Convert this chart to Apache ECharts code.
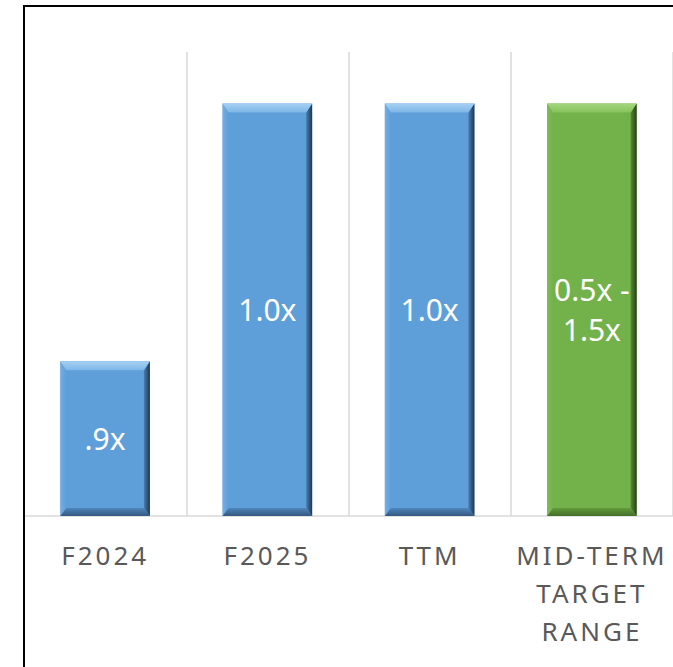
<!DOCTYPE html>
<html>
<head>
<meta charset="utf-8">
<script src="https://cdn.jsdelivr.net/npm/echarts@6/dist/echarts.min.js"></script>
<style>
  html, body { margin: 0; padding: 0; background: #fff; }
  #chart { width: 673px; height: 667px; }
  #chart text[fill="#595959"] { letter-spacing: 3px; }
</style>
</head>
<body>
<div id="chart"></div>
<script>
// ---- data ----
const categories = ['F2024', 'F2025', 'TTM', 'MID-TERM\nTARGET\nRANGE'];
const values = [0.9, 1.0, 1.0, 1.0];
const barLabels = ['.9x', '1.0x', '1.0x', '0.5x -\n1.5x'];
const AXIS_MIN = 0.84;
const AXIS_MAX = 1.02;

// ---- styles ----
const BLUE = {
  base: '#5e9ed9', topA: '#a6d0f3', topB: '#7db6e8',
  leftA: '#74aee3', leftB: '#5e9ed9',
  rightA: '#4a7db0', rightB: '#1f3650',
  botA: '#4f86bd', botB: '#34597f'
};
const GREEN = {
  base: '#73b14b', topA: '#a3d67e', topB: '#86c35d',
  leftA: '#80bb58', leftB: '#73b14b',
  rightA: '#558a35', rightB: '#26401a',
  botA: '#629c3d', botB: '#456f2a'
};
const palettes = [BLUE, BLUE, BLUE, GREEN];

const chart = echarts.init(document.getElementById('chart'), null, { renderer: 'svg' });
const G = echarts.graphic;

function lg(x2, y2, a, b) {
  return new G.LinearGradient(0, 0, x2, y2, [{ offset: 0, color: a }, { offset: 1, color: b }]);
}

chart.setOption({
  animation: false,
  backgroundColor: '#ffffff',
  grid: { left: 24, right: -3, top: 52, bottom: 151, containLabel: false },
  xAxis: {
    type: 'category',
    data: categories,
    axisTick: { show: false },
    axisLine: { show: true, lineStyle: { color: '#d9d9d9', width: 1.5 } },
    splitLine: { show: true, interval: 0, lineStyle: { color: '#d9d9d9', width: 1.5 } },
    axisLabel: {
      interval: 0,
      color: '#595959',
      fontFamily: 'Noto Sans',
      fontSize: 26,
      lineHeight: 38,
      margin: 20
    }
  },
  yAxis: {
    type: 'value',
    min: AXIS_MIN,
    max: AXIS_MAX,
    show: false,
    splitLine: { show: false }
  },
  graphic: [{
    type: 'rect',
    z: 100,
    shape: { x: 24, y: 6, width: 900, height: 900 },
    style: { fill: 'none', stroke: '#000000', lineWidth: 2 }
  }],
  series: [{
    type: 'custom',
    clip: false,
    data: values.map((v, i) => [i, v]),
    renderItem: function (params, api) {
      const i = api.value(0);
      const v = api.value(1);
      const top = api.coord([i, v]);
      const base = api.coord([i, AXIS_MIN]);
      const w = api.size([1, 0])[0] * 0.552;
      const x0 = top[0] - w / 2, x1 = top[0] + w / 2;
      const y0 = top[1], y1 = base[1];
      const p = palettes[i];
      const bt = 9, bs = 6, bb = 8;
      return {
        type: 'group',
        children: [
          { type: 'rect', shape: { x: x0, y: y0, width: w, height: y1 - y0 }, style: { fill: p.base } },
          { type: 'polygon', shape: { points: [[x0, y0], [x0 + bs, y0 + bt], [x0 + bs, y1 - bb], [x0, y1]] },
            style: { fill: lg(1, 0, p.leftA, p.leftB) } },
          { type: 'polygon', shape: { points: [[x1, y0], [x1, y1], [x1 - bs, y1 - bb], [x1 - bs, y0 + bt]] },
            style: { fill: lg(1, 0, p.rightA, p.rightB) } },
          { type: 'polygon', shape: { points: [[x0, y1], [x1, y1], [x1 - bs, y1 - bb], [x0 + bs, y1 - bb]] },
            style: { fill: lg(0, 1, p.botA, p.botB) } },
          { type: 'polygon', shape: { points: [[x0, y0], [x1, y0], [x1 - bs, y0 + bt], [x0 + bs, y0 + bt]] },
            style: { fill: lg(0, 1, p.topA, p.topB) } },
          { type: 'text', style: {
              text: barLabels[i], x: top[0], y: (y0 + y1) / 2,
              align: 'center', verticalAlign: 'middle',
              fill: '#ffffff', font: '30px "Noto Sans"', lineHeight: 40
            } }
        ]
      };
    }
  }]
});
</script>
</body>
</html>
